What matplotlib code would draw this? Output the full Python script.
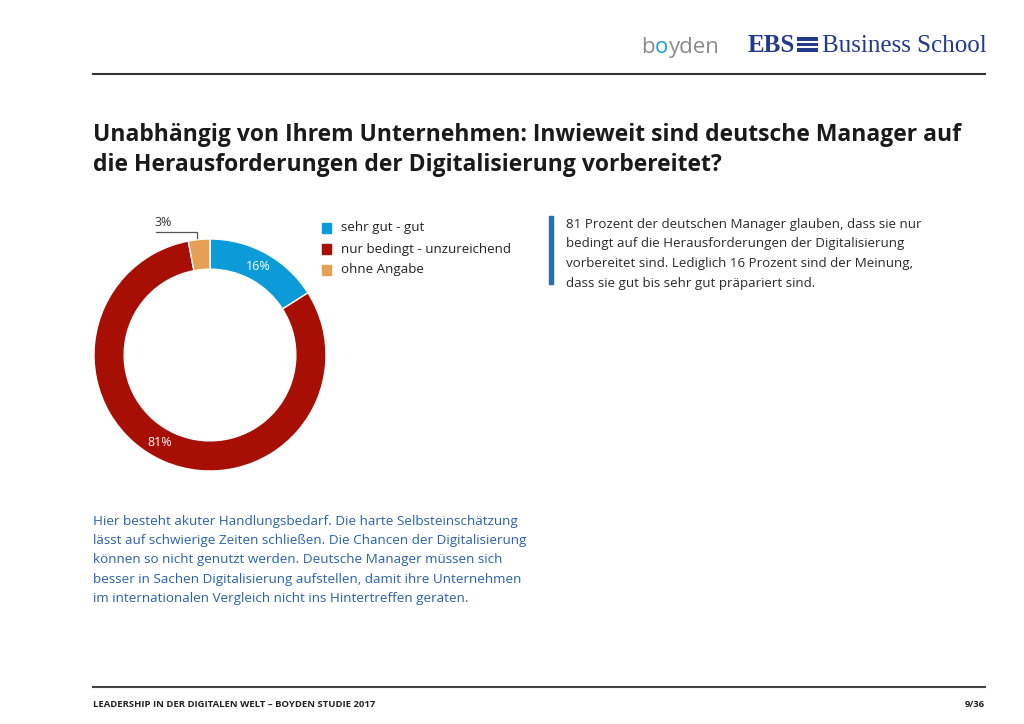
import numpy as np
import matplotlib
matplotlib.use("Agg")
import matplotlib.pyplot as plt
from matplotlib.patches import Rectangle
from matplotlib.lines import Line2D

# Daten
kategorien = ["sehr gut - gut", "nur bedingt - unzureichend", "ohne Angabe"]
werte = [16, 81, 3]
farben = ["#0b9bd9", "#a70e04", "#e6a055"]

titel = ["Unabhängig von Ihrem Unternehmen: Inwieweit sind deutsche Manager auf",
         "die Herausforderungen der Digitalisierung vorbereitet?"]
text_rechts = ["81 Prozent der deutschen Manager glauben, dass sie nur",
               "bedingt auf die Herausforderungen der Digitalisierung",
               "vorbereitet sind. Lediglich 16 Prozent sind der Meinung,",
               "dass sie gut bis sehr gut präpariert sind."]
text_unten = ["Hier besteht akuter Handlungsbedarf. Die harte Selbsteinschätzung",
              "lässt auf schwierige Zeiten schließen. Die Chancen der Digitalisierung",
              "können so nicht genutzt werden. Deutsche Manager müssen sich",
              "besser in Sachen Digitalisierung aufstellen, damit ihre Unternehmen",
              "im internationalen Vergleich nicht ins Hintertreffen geraten."]

W, H = 1024, 724
plt.rcParams['font.family'] = ['Open Sans', 'DejaVu Sans']
fig = plt.figure(figsize=(W / 100, H / 100), dpi=100)
fig.patch.set_facecolor("white")


# Pixelkoordinaten (von oben links) in Figure-Koordinaten umrechnen
def px(x, y):
    return x / W, 1 - y / H


def linie(x0, x1, y, farbe="#444444", lw=1.5):
    fig.add_artist(Line2D([x0 / W, x1 / W], [1 - y / H, 1 - y / H],
                          color=farbe, lw=lw, transform=fig.transFigure))


# Kopfzeile
linie(93, 985, 74, "#333333", 1.5)
fig.text(*px(641, 53), "b", fontsize=16, color="#8a8a8a", va="baseline")
fig.text(*px(654.5, 53), "o", fontsize=16, color="#1aa0dc", va="baseline")
fig.text(*px(668.5, 53), "yden", fontsize=16, color="#8a8a8a", va="baseline")
fig.text(*px(748, 52), "EBS", fontsize=18, color="#223a8a", va="baseline",
         family="Liberation Serif", weight="bold")
for i in range(3):
    fig.add_artist(Rectangle(px(797, 37 + i * 5.5 + 3.5), 21 / W, 3.5 / H,
                             transform=fig.transFigure, color="#223a8a", lw=0))
fig.text(*px(822, 52), "Business School", fontsize=18, color="#223a8a",
         va="baseline", family="Liberation Serif")

# Titel
for i, zeile in enumerate(titel):
    fig.text(*px(93, 141 + i * 30), zeile, fontsize=16.5, weight="bold",
             color="#1a1a1a", va="baseline")

# Donut
cx, cy, r = 210, 355, 116
ax = fig.add_axes([(cx - r) / W, 1 - (cy + r) / H, 2 * r / W, 2 * r / H])
wedges, _ = ax.pie(werte, colors=farben, startangle=90, counterclock=False,
                   radius=1, wedgeprops=dict(width=0.26, edgecolor="white", linewidth=1))
ax.set_xlim(-1, 1)
ax.set_ylim(-1, 1)
ax.set_aspect("equal")
ax.axis("off")

for w, v in zip(wedges, werte):
    if v < 5:
        continue
    winkel = np.deg2rad((w.theta1 + w.theta2) / 2)
    if v > 50:
        winkel = np.deg2rad(-120)
    ax.text(0.87 * np.cos(winkel), 0.87 * np.sin(winkel), f"{v}%",
            color="white", fontsize=9, ha="center", va="center")

# kleines Segment: Beschriftung außen mit Führungslinie
fig.text(*px(163, 226), f"{werte[2]}%", fontsize=9, color="#333333",
         ha="center", va="baseline")
fig.add_artist(Line2D([156 / W, 197 / W, 197 / W],
                      [1 - 232 / H, 1 - 232 / H, 1 - 238 / H],
                      color="#555555", lw=0.9, transform=fig.transFigure))

# Legende
for i, (kat, f) in enumerate(zip(kategorien, farben)):
    y = 228 + i * 21
    fig.add_artist(Rectangle(px(322, y + 4.5), 9 / W, 9 / H,
                             transform=fig.transFigure, color=f))
    fig.text(*px(341, y), kat, fontsize=9.6, color="#222222", va="center")

# Text rechts mit blauem Balken
fig.add_artist(Rectangle(px(549, 284), 3.5 / W, 68 / H,
                         transform=fig.transFigure, color="#2a6db5"))
for i, zeile in enumerate(text_rechts):
    fig.text(*px(566, 228 + i * 19.5), zeile, fontsize=9.6, color="#2b2b2b",
             va="baseline")

# Text unten links
for i, zeile in enumerate(text_unten):
    fig.text(*px(93, 525 + i * 19.2), zeile, fontsize=9.7, color="#2a62a8",
             va="baseline")

# Fußzeile
linie(93, 985, 687, "#444444", 1.5)
fig.text(*px(93, 707), "LEADERSHIP IN DER DIGITALEN WELT – BOYDEN STUDIE 2017",
         fontsize=6.8, weight="bold", color="#222222", va="baseline")
fig.text(*px(985, 707), "9/36", fontsize=6.8, weight="bold", color="#222222",
         va="baseline", ha="right")

fig.savefig("out.png", dpi=100)
